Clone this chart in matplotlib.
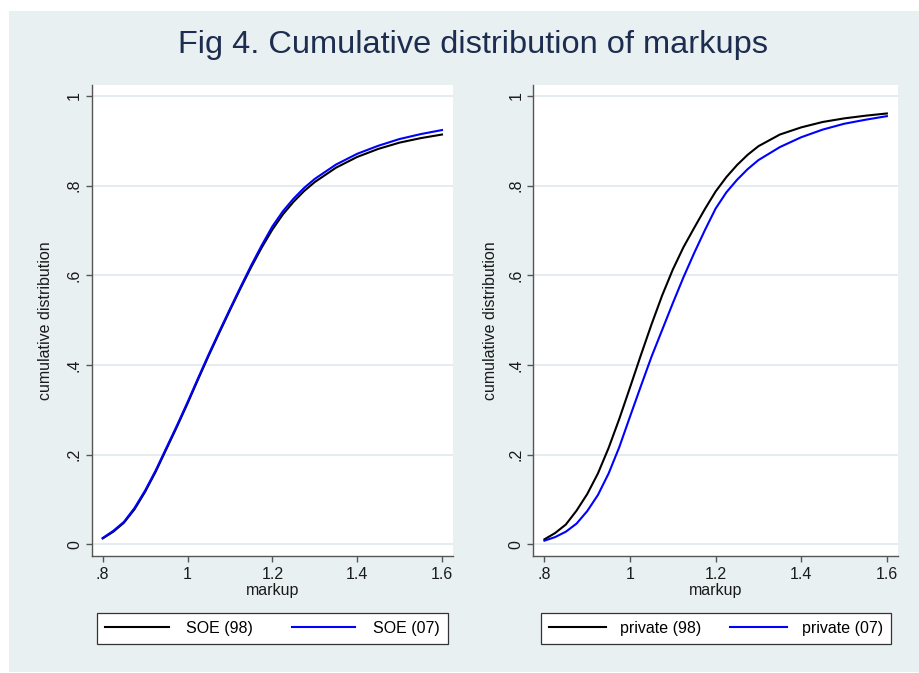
import numpy as np
import matplotlib
matplotlib.use('AGG')
import matplotlib.pyplot as plt
from matplotlib.patches import Rectangle

plt.rcParams['font.family'] = ['Liberation Sans', 'DejaVu Sans']

# markup grid and cumulative shares
markup = [0.800, 0.825, 0.850, 0.875, 0.900, 0.925, 0.950, 0.975, 1.000,
          1.025, 1.050, 1.075, 1.100, 1.125, 1.150, 1.175, 1.200, 1.225,
          1.250, 1.275, 1.300, 1.350, 1.400, 1.450, 1.500, 1.550, 1.600]

soe_98 = [0.013, 0.028, 0.048, 0.078, 0.117, 0.162, 0.212, 0.262, 0.314,
          0.368, 0.421, 0.472, 0.522, 0.571, 0.618, 0.662, 0.702, 0.736,
          0.764, 0.788, 0.808, 0.840, 0.864, 0.882, 0.896, 0.906, 0.914]
soe_07 = [0.014, 0.030, 0.050, 0.081, 0.120, 0.165, 0.215, 0.265, 0.317,
          0.371, 0.424, 0.475, 0.525, 0.574, 0.622, 0.667, 0.709, 0.743,
          0.771, 0.795, 0.815, 0.847, 0.871, 0.889, 0.904, 0.915, 0.924]

priv_98 = [0.011, 0.025, 0.044, 0.075, 0.112, 0.158, 0.215, 0.280, 0.350,
           0.421, 0.490, 0.555, 0.613, 0.663, 0.706, 0.748, 0.787, 0.819,
           0.846, 0.869, 0.888, 0.914, 0.930, 0.942, 0.950, 0.956, 0.961]
priv_07 = [0.008, 0.016, 0.028, 0.046, 0.074, 0.110, 0.158, 0.217, 0.285,
           0.352, 0.418, 0.478, 0.538, 0.596, 0.650, 0.701, 0.749, 0.785,
           0.813, 0.837, 0.857, 0.886, 0.908, 0.925, 0.938, 0.947, 0.955]

yticks = [0, 0.2, 0.4, 0.6, 0.8, 1.0]
ytick_labels = ['0', '.2', '.4', '.6', '.8', '1']
xticks = [0.8, 1.0, 1.2, 1.4, 1.6]
xtick_labels = ['.8', '1', '1.2', '1.4', '1.6']

W, H = 919, 673
fig = plt.figure(figsize=(W / 100, H / 100), dpi=100, facecolor='white')
bg = '#e9f0f2'
fig.patches.append(Rectangle((9 / W, 1 - 672 / H), (W - 9) / W, (672 - 11) / H,
                             transform=fig.transFigure, facecolor=bg,
                             edgecolor='none', zorder=-10))

fig.text(473.5 / W, 1 - 45 / H, 'Fig 4. Cumulative distribution of markups',
         ha='center', va='center', fontsize=23.4, color='#1c2d4f')

# left px, right px, series, labels, ylabel x px, legend spacing
panels = [
    (91.7, 453.0, soe_98, soe_07, 'SOE (98)', 'SOE (07)', 53.0, (4.0, 1.1, 2.4)),
    (533.3, 898.0, priv_98, priv_07, 'private (98)', 'private (07)', 498.0, (3.6, 0.9, 1.75)),
]
top_px, bot_px = 85.0, 556.0

for left, right, s98, s07, l98, l07, ylab_x, (hl, htp, csp) in panels:
    ax = fig.add_axes([left / W, 1 - bot_px / H, (right - left) / W, (bot_px - top_px) / H])
    ax.set_facecolor('white')
    ax.plot(markup, s98, color='black', lw=1.5, label=l98, zorder=3)
    ax.plot(markup, s07, color='#0000ff', lw=1.5, label=l07, zorder=4)
    ax.set_xlim(0.774, 1.626)
    ax.set_ylim(-0.0262, 1.0245)
    ax.set_xticks(xticks)
    ax.set_xticklabels(xtick_labels)
    ax.set_yticks(yticks)
    ax.set_yticklabels(ytick_labels, rotation=90, va='center', ha='right')
    for y in yticks:
        ax.axhline(y, color='#e3ebef', lw=1.3, zorder=1)
    for s in ['top', 'right']:
        ax.spines[s].set_visible(False)
    for s in ['left', 'bottom']:
        ax.spines[s].set_color('#555555')
        ax.spines[s].set_linewidth(1.0)
    ax.tick_params(axis='both', direction='out', length=4, width=1.0,
                   color='#555555', labelsize=11.5, labelcolor='#1a1a1a')
    ax.tick_params(axis='x', pad=4)
    ax.tick_params(axis='y', pad=3)
    ax.set_xlabel('markup', fontsize=11.5, color='#1a1a1a', labelpad=1)
    ax.set_ylabel('cumulative distribution', fontsize=11.5, color='#1a1a1a')
    ax.yaxis.set_label_coords((ylab_x - left) / (right - left), 0.5)
    leg = ax.legend(loc='upper center', ncol=2,
                    bbox_to_anchor=(0.5, -(612.7 - bot_px) / (bot_px - top_px)),
                    borderaxespad=0, fontsize=11.5, handlelength=hl,
                    handletextpad=htp, columnspacing=csp, borderpad=0.5,
                    fancybox=False, framealpha=1, edgecolor='#333333')
    leg.get_frame().set_linewidth(0.9)

fig.savefig('out.png', dpi=100, facecolor='white')
